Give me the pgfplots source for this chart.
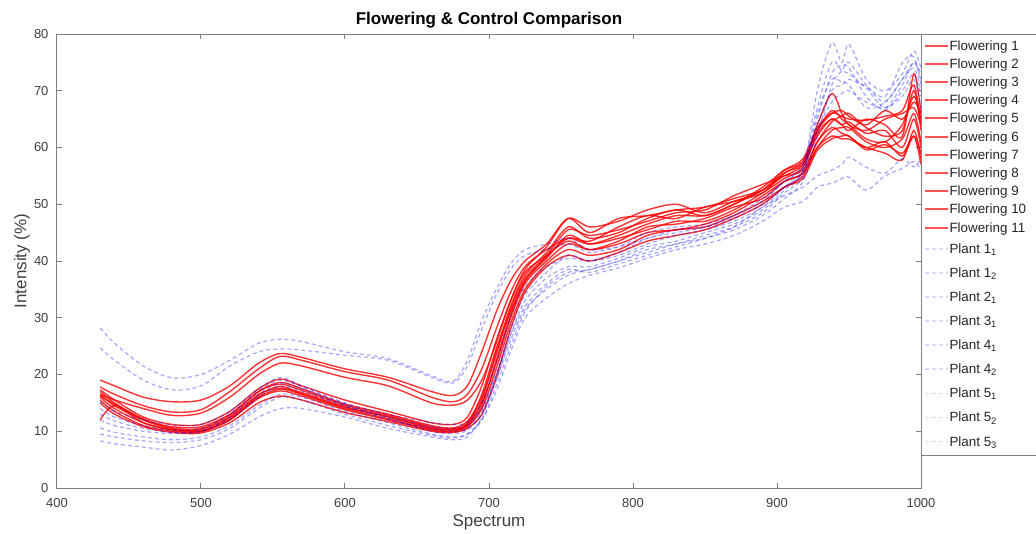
\documentclass[border=0pt]{standalone}
\usepackage{fontspec}
\setmainfont{Liberation Sans}
\usepackage{pgfplots}
\pgfplotsset{compat=1.18}
\usepackage{pgfplotstable}
\definecolor{axgray}{RGB}{128,128,128}
\definecolor{txtgray}{RGB}{64,64,64}
\definecolor{legtxt}{RGB}{38,38,38}
\definecolor{legred}{RGB}{255,40,40}
\definecolor{legblue}{RGB}{150,150,255}
\tikzset{flen/.style={text height=13.6pt, text depth=4.6pt},
         plen/.style={text height=16.5pt, text depth=7.6pt}}

\pgfplotstableread{
x r1 r2 r3 r4 r5 r6 r7 r8 r9 r10 r11 b1 b2 b3 b4 b5 b6 b7 b8 b9
430 19 17.8 16.5 17.3 16.5 16 15.5 12 16.2 15 17 28.2 24.7 15.2 10.6 8.3 12 14 13 9.5
440 18 16.5 15.5 15.5 14.5 14 13.5 14.5 14.8 13 15 25.5 22.5 13.5 9.8 7.8 11 12.5 11.8 9
460 16 14.5 14 12.5 12 11.5 11 11.5 12.2 10.8 12 21.5 19 12 9 7.2 10 11 10.5 8.3
480 15.2 13.4 12.8 11.2 10.8 10.3 10 10.2 10.6 9.8 10.4 19.4 17.3 11.1 8.5 6.7 9.6 10.2 9.8 8
500 15.5 13.8 13.2 11.2 10.8 10.3 9.9 10 10.5 9.7 10.1 20 18 11.2 9 7.5 10 10.5 10 8.5
520 18 17 16 13.5 13 12.5 12 12.3 12.8 11.5 12 22.5 21.5 13.5 11 9.5 12.5 13 12 10.5
540 22 21 20 17.5 17 16.5 15.8 16 17 15 16.3 25.5 24 17.5 14.5 12.5 16.5 17.2 16 14
555 23.7 23.2 22 19.2 18.6 17.6 17.1 17.4 18.3 16.2 17.9 26.2 24.5 19.5 16.5 14 18.5 19 18 16
570 23 22.5 21.5 18 17.5 16.8 16.2 16.5 17.2 15.5 16.6 25.8 24.3 18 16 14 17.5 17.8 17 15.5
600 21 20.5 19.5 15.5 14.8 14.3 13.8 14 14.6 13.3 14.2 24 23.4 15 13.5 12.5 14.5 14.8 14.5 13
630 19.5 19 18 13.5 13 12.5 12 12.2 12.8 11.7 12.6 22.8 22.5 13 11.5 10.5 12 12.5 12.3 11
660 17 16 15 11.5 11 10.5 10.2 10.3 10.8 10 10.6 19.8 19.5 11.5 9.5 9 10.5 10.8 10 9.3
675 16.3 15.2 14.6 11.2 10.6 10.2 9.9 10 10.4 9.8 10.3 18.8 18.5 11.2 9 8.5 10 10.5 9.6 8.8
685 18 16.5 15.5 12.5 11.8 11.2 10.8 11 11.5 10.5 11.3 22.5 21.5 11.5 9.5 9 10.5 11 10.2 9.5
695 24 21 19 18 16 15 14 14.5 15.5 13 16.5 29.5 28 14 12 12.5 13.5 15 13 12
705 31 28 25.5 26 23.5 22 21 22.5 24 19.5 24.5 35 34 20 17 19 20 22 19 18
715 36.5 34.5 33 33 31.5 30 29 30.5 32 28 31 39.5 38.5 27 24 26 28 30 27 25
725 40 39 38 38.5 37 36 35 36.5 37.5 34.5 36.5 42 41 32 30 31.5 34 35.5 33 31
740 43 42 41 42.5 41 40 39.5 40.5 41.5 39 40.8 43 42 36 33.5 35 38 39 37 35.5
755 47.5 44 43.5 47.5 45.5 43 42 44.5 46 41 44 44 43 38.5 36 37.5 41 40.5 39 38
770 45 43 42 46 44.5 42 41 43 44 40 43.5 42 41.5 38 37.5 38.5 40 40 39 38.5
790 47.5 44.5 43 47 45.5 43.5 42 44 45 41.5 46 42.5 42.5 39.5 38.8 40 41 41.5 40.5 40
810 48 46.5 45 49 47 46 44.5 45.5 47.5 43.5 48 44 45 41 40.5 42 43 44 42.5 41.5
830 49 48 45.5 50 48.5 46.5 45.5 47 49 44.5 47.5 45.5 46 42.5 42 43 44.5 45 43.5 43
850 49.5 48 46.5 48.5 49 47.5 46 47 48 45.5 49.5 46 46.5 44 43 44.5 45.5 46 45 44
870 51 50 48.5 50.5 51.5 49.5 48 49 50 47.5 50.5 47.5 48 46 44.5 46 47 48 46.5 45.5
890 52.5 53 51.5 52 53.5 51 50.5 52 52.5 50 52.5 50 50.5 49.5 47 48.5 49.5 51 49 48
905 55 56 54 55.5 55 54 53 54.5 55.5 53 56 53 54 51.5 49.5 52 53 54 52.5 51
918 57 57.5 55.5 57 56 55.5 55 56.5 57.5 54.5 58 56 57 53 50.5 55 56 56.5 55.5 54
928 64 63 61 62 61 60 60 62.5 63 59.5 63.5 70 67 55 53 66 65 64 63 62
938 69.5 66 63.5 65 64.5 63 62 65 66.5 61.5 66 78.4 75 56 53.7 72 73 70 68 71
945 66 66.5 62.5 64 65.5 63.5 61.5 64 65 62 65.5 75 73.5 57 54.5 71.5 74.5 71 69.5 73.5
950 64 65.5 62 63 66 63.5 61.5 64.5 64 62 65 78.2 73 58.3 54.8 71 74 72 70 75
962 63 64 60 65 63.5 61 60 62.5 61.5 59.6 64.8 72 70.5 56.5 52.5 67 69 70.7 68 71
975 65 66.5 61 64 62 60 59 63 61 60.5 65.5 70 67 55.5 55 68 66.6 69 67 68
987 66 65 58.5 62 63 61.5 57.8 60 64 59 66.5 73 71 58 56.3 72 70 74.9 69 72
995 67 68 62 73 70 66 63 65 69 62 71 77 75 56.6 57.5 75 73 76 72 74
1000 64 66 59 66 63 61 58 60 65 57 64 74 72 58 56 73 69 71 67 70
}\data

\newcommand\FL[1]{\makebox[95pt][l]{Flowering #1}}
\newcommand\PL[2]{\makebox[95pt][l]{Plant #1\textsubscript{#2}}}

\begin{document}
\begin{tikzpicture}
\useasboundingbox (-57pt,-45pt) rectangle (979pt,488pt);
\begin{axis}[
  scale only axis, width=864pt, height=454pt,
  xmin=400, xmax=1000, ymin=0, ymax=80,
  xtick={400,500,...,1000}, ytick={0,10,...,80},
  tick align=inside, major tick length=5pt,
  axis line style={axgray, line width=1pt},
  every tick/.style={axgray, line width=1pt},
  tick label style={font=\fontsize{13}{15}\selectfont, text=txtgray},
  /pgf/number format/assume math mode=true,
  /pgf/number format/1000 sep={},
  xticklabel style={yshift=-7pt}, yticklabel style={xshift=-5pt},
  title={Flowering \& Control Comparison},
  title style={font=\bfseries\fontsize{17}{19}\selectfont, text=black, at={(axis description cs:0.5,1.0176)}, anchor=center},
  xlabel={Spectrum}, ylabel={Intensity (\%)},
  xlabel style={font=\fontsize{17}{19}\selectfont, text=txtgray, at={(axis description cs:0.5,-0.0749)}, anchor=center},
  ylabel style={font=\fontsize{17}{19}\selectfont, text=txtgray, at={(axis description cs:-0.0405,0.5)}, anchor=center},
  legend cell align=left,
  legend style={at={(1,1)}, anchor=north west, draw=axgray, line width=1pt, fill=white, inner sep=2pt, row sep=0pt, column sep=1pt, font=\fontsize{13.4}{15}\selectfont, nodes={inner sep=0pt, text=legtxt}},
  fl/.style={red, draw opacity=0.8, line width=1.4pt, smooth, no markers,
    legend image code/.code={\draw[legred, line width=2pt] (0pt,0pt) -- (23pt,0pt);}},
  pl/.style={blue, draw opacity=0.35, line width=1.2pt, dash pattern=on 4pt off 3pt, smooth, no markers,
    legend image code/.code={\draw[legblue, line width=1.6pt, dash pattern=on 4pt off 3pt] (0pt,0pt) -- (23pt,0pt);}},
]
\addplot[fl] table[x=x,y=r1]{\data}; \addlegendentry[flen]{\FL{1}}
\addplot[fl] table[x=x,y=r2]{\data}; \addlegendentry[flen]{\FL{2}}
\addplot[fl] table[x=x,y=r3]{\data}; \addlegendentry[flen]{\FL{3}}
\addplot[fl] table[x=x,y=r4]{\data}; \addlegendentry[flen]{\FL{4}}
\addplot[fl] table[x=x,y=r5]{\data}; \addlegendentry[flen]{\FL{5}}
\addplot[fl] table[x=x,y=r6]{\data}; \addlegendentry[flen]{\FL{6}}
\addplot[fl] table[x=x,y=r7]{\data}; \addlegendentry[flen]{\FL{7}}
\addplot[fl] table[x=x,y=r8]{\data}; \addlegendentry[flen]{\FL{8}}
\addplot[fl] table[x=x,y=r9]{\data}; \addlegendentry[flen]{\FL{9}}
\addplot[fl] table[x=x,y=r10]{\data}; \addlegendentry[flen]{\FL{10}}
\addplot[fl] table[x=x,y=r11]{\data}; \addlegendentry[flen]{\FL{11}}
\addplot[pl] table[x=x,y=b1]{\data}; \addlegendentry[plen]{\PL{1}{1}}
\addplot[pl] table[x=x,y=b2]{\data}; \addlegendentry[plen]{\PL{1}{2}}
\addplot[pl] table[x=x,y=b3]{\data}; \addlegendentry[plen]{\PL{2}{1}}
\addplot[pl] table[x=x,y=b4]{\data}; \addlegendentry[plen]{\PL{3}{1}}
\addplot[pl] table[x=x,y=b5]{\data}; \addlegendentry[plen]{\PL{4}{1}}
\addplot[pl] table[x=x,y=b6]{\data}; \addlegendentry[plen]{\PL{4}{2}}
\addplot[pl] table[x=x,y=b7]{\data}; \addlegendentry[plen]{\PL{5}{1}}
\addplot[pl] table[x=x,y=b8]{\data}; \addlegendentry[plen]{\PL{5}{2}}
\addplot[pl] table[x=x,y=b9]{\data}; \addlegendentry[plen]{\PL{5}{3}}
\end{axis}
\end{tikzpicture}
\end{document}
